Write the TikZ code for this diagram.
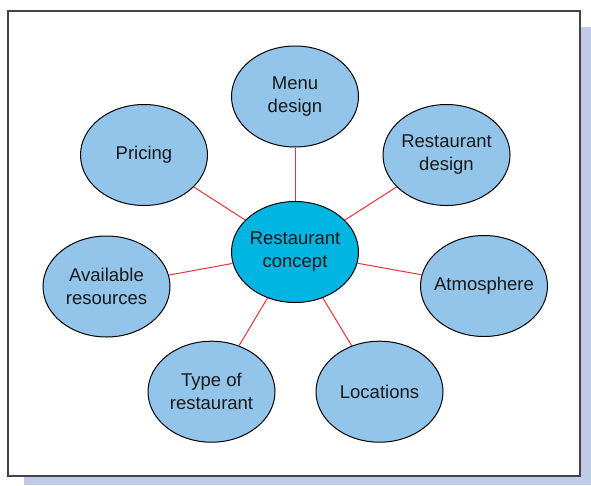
\documentclass[tikz,border=0pt]{standalone}
\usepackage{fontspec}
\setmainfont{Liberation Sans}
\usetikzlibrary{shapes.geometric}
\definecolor{shadowblue}{HTML}{BFCBE7}
\definecolor{bubble}{HTML}{93C5EA}
\definecolor{hub}{HTML}{00B5E2}
\definecolor{spoke}{HTML}{E8323C}
\definecolor{framegray}{HTML}{444444}
\begin{document}
\begin{tikzpicture}[x=1pt,y=-1pt,
  bubblenode/.style={ellipse, draw=black, line width=1pt, fill=bubble,
    minimum width=127pt, minimum height=101pt, inner xsep=-12pt, inner ysep=0pt,
    align=center, font=\fontsize{18.5}{23}\selectfont, text=black!90},
  hubnode/.style={bubblenode, fill=hub},
  spokeline/.style={draw=spoke, line width=1pt}]
\useasboundingbox (0,0) rectangle (591,485);
\fill[shadowblue] (24,27) rectangle (591,485);
\draw[framegray, fill=white, line width=1.5pt] (8,11) rectangle (580,476);
\node[hubnode] (c) at (295,252) {Restaurant\\concept};
\node[bubblenode] (menu) at (295,96.5) {Menu\\design};
\node[bubblenode] (pricing) at (144,155) {Pricing};
\node[bubblenode] (rdesign) at (446.5,155) {Restaurant\\design};
\node[bubblenode] (avail) at (106.5,286.5) {Available\\resources};
\node[bubblenode] (atmo) at (484,286) {Atmosphere};
\node[bubblenode] (type) at (211.5,391.7) {Type of\\restaurant};
\node[bubblenode] (loc) at (379.5,391.7) {Locations};
\foreach \n in {menu,pricing,rdesign,avail,atmo,type,loc}
  \path[spokeline] (c) -- (\n);
\end{tikzpicture}
\end{document}
